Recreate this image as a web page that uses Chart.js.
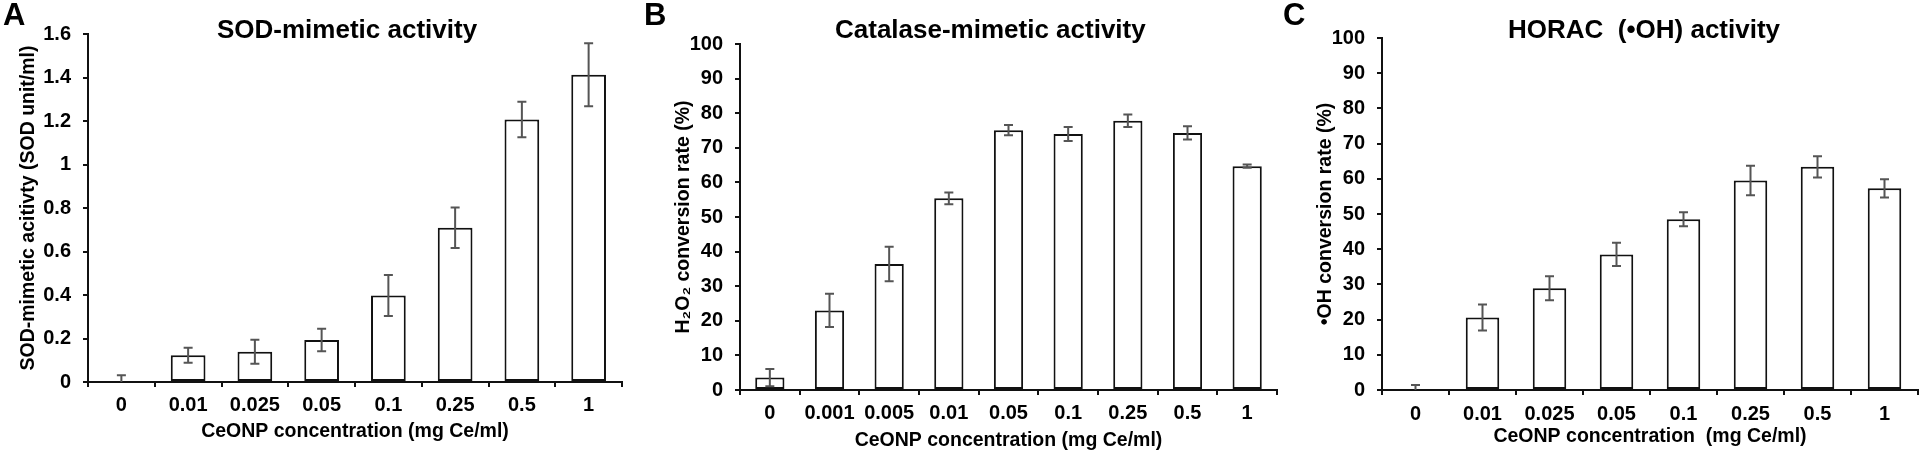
<!DOCTYPE html>
<html>
<head>
<meta charset="utf-8">
<script src="https://cdn.jsdelivr.net/npm/chart.js@4.4.1/dist/chart.umd.min.js"></script>
<style>
  html, body { margin: 0; padding: 0; background: #fff; }
  #wrap { position: relative; width: 1920px; height: 453px; overflow: hidden; font-family: "Liberation Sans", Arial, sans-serif; }
  canvas { position: absolute; top: 0; }
  .letter { position: absolute; font-weight: bold; font-size: 31px; line-height: 31px; top: -1px; color: #000; }
  .title { position: absolute; font-weight: bold; font-size: 26px; line-height: 26px; top: 16px; color: #000; white-space: pre; }
</style>
</head>
<body>
<div id="wrap">
  <canvas id="chartA" width="640" height="453" style="left:0"></canvas>
  <canvas id="chartB" width="640" height="453" style="left:640px"></canvas>
  <canvas id="chartC" width="640" height="453" style="left:1280px"></canvas>
  <div class="letter" style="left:3px">A</div>
  <div class="letter" style="left:644px">B</div>
  <div class="letter" style="left:1283px">C</div>
  <div class="title" style="left:217px">SOD-mimetic activity</div>
  <div class="title" style="left:835px">Catalase-mimetic activity</div>
  <div class="title" style="left:1508px">HORAC  (•OH) activity</div>
</div>
<script>
// ------------------------------
// Data
// ------------------------------
const sodCategories = ['0', '0.01', '0.025', '0.05', '0.1', '0.25', '0.5', '1'];
const sodValues = [0, 0.123, 0.139, 0.193, 0.398, 0.709, 1.207, 1.413];
const sodErrors = [0.031, 0.034, 0.055, 0.052, 0.094, 0.093, 0.082, 0.145];
const sodTicks = [0, 0.2, 0.4, 0.6, 0.8, 1, 1.2, 1.4, 1.6];

const catalaseCategories = ['0', '0.001', '0.005', '0.01', '0.05', '0.1', '0.25', '0.5', '1'];
const catalaseValues = [3.6, 23.0, 36.4, 55.4, 75.1, 74.0, 77.8, 74.3, 64.7];
const catalaseErrors = [2.5, 4.8, 5.0, 1.7, 1.5, 2.0, 1.8, 1.9, 0.5];

const horacCategories = ['0', '0.01', '0.025', '0.05', '0.1', '0.25', '0.5', '1'];
const horacValues = [0, 20.6, 28.9, 38.5, 48.5, 59.5, 63.4, 57.3];
const horacErrors = [1.4, 3.7, 3.4, 3.3, 2.0, 4.2, 3.0, 2.6];

const percentTicks = [0, 10, 20, 30, 40, 50, 60, 70, 80, 90, 100];

Chart.defaults.font.family = '"Liberation Sans", Arial, sans-serif';
Chart.defaults.color = '#000';

// ------------------------------
// Error bars drawn from the y scale
// ------------------------------
const errorBars = {
    id: 'errorBars',
    afterDatasetsDraw(chart, args, opts) {
        const { ctx, chartArea } = chart;
        const yScale = chart.scales.y;
        const values = chart.data.datasets[0].data;
        const meta = chart.getDatasetMeta(0);
        ctx.save();
        ctx.beginPath();
        ctx.rect(chartArea.left, 0, chartArea.width, chartArea.bottom);
        ctx.clip();
        ctx.strokeStyle = '#555';
        ctx.lineWidth = 2;
        meta.data.forEach((bar, i) => {
            const hi = yScale.getPixelForValue(values[i] + opts.errors[i]);
            const lo = yScale.getPixelForValue(values[i] - opts.errors[i]);
            const x = bar.x;
            ctx.beginPath();
            ctx.moveTo(x, hi); ctx.lineTo(x, lo);
            ctx.moveTo(x - 4.5, hi); ctx.lineTo(x + 4.5, hi);
            ctx.moveTo(x - 4.5, lo); ctx.lineTo(x + 4.5, lo);
            ctx.stroke();
        });
        ctx.restore();
    }
};

// ------------------------------
// One panel
// ------------------------------
function makePanel(id, cfg) {
    const axisLine = { display: true, color: '#111', width: 2 };
    const tickGrid = { display: true, drawOnChartArea: false, drawTicks: true, tickLength: 5, color: '#111', lineWidth: 2 };

    return new Chart(document.getElementById(id), {
        type: 'bar',
        data: {
            labels: cfg.labels,
            datasets: [{
                data: cfg.values,
                backgroundColor: '#fff',
                borderColor: '#111',
                borderWidth: 2,
                borderSkipped: false,
                categoryPercentage: 1,
                barPercentage: cfg.barPct
            }]
        },
        options: {
            responsive: false,
            animation: false,
            devicePixelRatio: 1,
            layout: { padding: { left: 0, right: cfg.padRight, top: cfg.top, bottom: 0 } },
            plugins: {
                legend: { display: false },
                tooltip: { enabled: false },
                errorBars: { errors: cfg.errors }
            },
            scales: {
                x: {
                    offset: true,
                    border: axisLine,
                    grid: Object.assign({ offset: true }, tickGrid),
                    ticks: { font: { size: 20, weight: 'bold' }, padding: cfg.xTickPad, maxRotation: 0, autoSkip: false },
                    title: {
                        display: true,
                        text: cfg.xTitle,
                        font: { size: 19.5, weight: 'bold' },
                        padding: { top: 0, bottom: cfg.xTitlePad }
                    },
                    afterFit: (s) => { s.height = 453 - cfg.bottom; }
                },
                y: {
                    min: cfg.ticks[0],
                    max: cfg.ticks[cfg.ticks.length - 1],
                    border: axisLine,
                    grid: tickGrid,
                    ticks: {
                        font: { size: 20, weight: 'bold' },
                        padding: 12,
                        callback: (v) => String(+v.toFixed(2))
                    },
                    afterBuildTicks: (s) => { s.ticks = cfg.ticks.map(v => ({ value: v })); },
                    title: {
                        display: true,
                        text: cfg.yTitle,
                        font: { size: 19.5, weight: 'bold' },
                        padding: { top: cfg.yTitleCenter - 11.7, bottom: 0 }
                    },
                    afterFit: (s) => { s.width = cfg.left; }
                }
            }
        },
        plugins: [errorBars]
    });
}

makePanel('chartA', {
    labels: sodCategories, values: sodValues, errors: sodErrors, ticks: sodTicks,
    left: 88, padRight: 18, top: 34, bottom: 382, barPct: 0.52,
    xTickPad: 6, xTitlePad: 9.8, yTitleCenter: 29,
    xTitle: 'CeONP concentration (mg Ce/ml)',
    yTitle: 'SOD-mimetic acitivty (SOD unit/ml)'
});

makePanel('chartB', {
    labels: catalaseCategories, values: catalaseValues, errors: catalaseErrors, ticks: percentTicks,
    left: 100, padRight: 3, top: 44, bottom: 390, barPct: 0.49,
    xTickPad: 6.5, xTitlePad: 0.5, yTitleCenter: 44,
    xTitle: 'CeONP concentration (mg Ce/ml)',
    yTitle: 'H₂O₂ conversion rate (%)'
});

makePanel('chartC', {
    labels: horacCategories, values: horacValues, errors: horacErrors, ticks: percentTicks,
    left: 102, padRight: 2, top: 38, bottom: 390, barPct: 0.5,
    xTickPad: 7, xTitlePad: 4.3, yTitleCenter: 46,
    xTitle: 'CeONP concentration  (mg Ce/ml)',
    yTitle: '•OH conversion rate (%)'
});
</script>
</body>
</html>
